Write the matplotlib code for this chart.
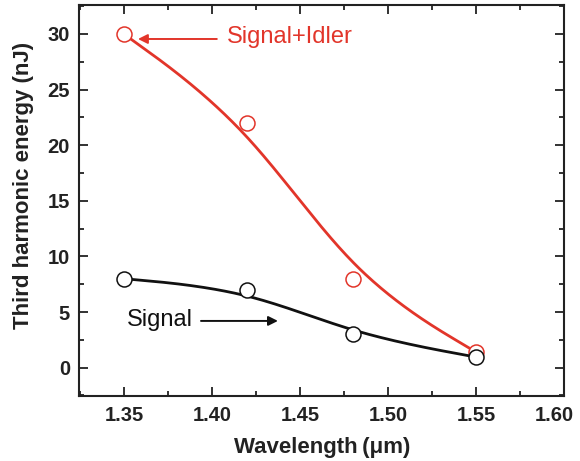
import numpy as np
import matplotlib
matplotlib.use("Agg")
import matplotlib.pyplot as plt
import matplotlib.transforms as mtransforms
from matplotlib.ticker import MultipleLocator

plt.rcParams['font.family'] = ['Liberation Sans', 'DejaVu Sans']

# Measured third-harmonic energy versus pump wavelength
wavelength = [1.35, 1.42, 1.48, 1.55]
signal_idler = [30.0, 22.0, 8.0, 1.4]
signal = [8.0, 7.0, 3.0, 0.95]

RED = '#e2352a'
BLACK = '#111111'


def bspline(x, y, n=60):
    """Uniform cubic B-spline using the data as control points,
    end points repeated so the curve starts and ends on them."""
    pts = np.column_stack([x, y]).astype(float)
    pts = np.vstack([pts[:1], pts[:1], pts, pts[-1:], pts[-1:]])
    t = np.linspace(0, 1, n)[:, None]
    b0 = (1 - t) ** 3 / 6
    b1 = (3 * t ** 3 - 6 * t ** 2 + 4) / 6
    b2 = (-3 * t ** 3 + 3 * t ** 2 + 3 * t + 1) / 6
    b3 = t ** 3 / 6
    segs = [b0 * pts[i] + b1 * pts[i + 1] + b2 * pts[i + 2] + b3 * pts[i + 3]
            for i in range(len(pts) - 3)]
    curve = np.vstack(segs)
    return curve[:, 0], curve[:, 1]


fig = plt.figure(figsize=(5.8, 4.61), dpi=100)
ax = fig.add_axes([0.1362, 0.141, 0.9724 - 0.1362, 0.989 - 0.141])

cx, cy = bspline(wavelength, signal_idler)
ax.plot(cx, cy, color=RED, lw=2.0, zorder=2)
ax.plot(wavelength, signal_idler, 'o', ms=10.8, mfc='white', mec=RED, mew=1.1, zorder=3)
cx, cy = bspline(wavelength, signal)
ax.plot(cx, cy, color=BLACK, lw=2.0, zorder=4)
ax.plot(wavelength, signal, 'o', ms=10.8, mfc='white', mec=BLACK, mew=1.1, zorder=5)

# Series annotations
ax.annotate('', xy=(1.358, 29.55), xytext=(1.4028, 29.55),
            arrowprops=dict(arrowstyle='-|>', color=RED, lw=1.4,
                            mutation_scale=14, shrinkA=0, shrinkB=0))
ax.text(1.4085, 29.75, 'Signal+Idler', color=RED, fontsize=17,
        ha='left', va='center')
ax.annotate('', xy=(1.4375, 4.2), xytext=(1.3938, 4.2),
            arrowprops=dict(arrowstyle='-|>', color=BLACK, lw=1.4,
                            mutation_scale=14, shrinkA=0, shrinkB=0))
ax.text(1.3517, 4.3, 'Signal', color=BLACK, fontsize=17,
        ha='left', va='center')

ax.set_xlim(1.3245, 1.60)
ax.set_ylim(-2.55, 32.6)
ax.xaxis.set_major_locator(MultipleLocator(0.05))
ax.xaxis.set_minor_locator(MultipleLocator(0.025))
ax.yaxis.set_major_locator(MultipleLocator(5))
ax.yaxis.set_minor_locator(MultipleLocator(2.5))
ax.xaxis.set_major_formatter(plt.FormatStrFormatter('%.2f'))

for s in ax.spines.values():
    s.set_linewidth(1.5)
    s.set_color('#222222')

ax.tick_params(which='both', direction='in', top=True, right=True,
               width=1.3, color='#222222')
ax.tick_params(which='major', length=6.5, labelsize=14.5)
ax.tick_params(which='minor', length=3.5)
ax.tick_params(axis='y', which='major', pad=6.5)
ax.tick_params(axis='x', which='major', pad=7.5)
for lab in ax.get_xticklabels() + ax.get_yticklabels():
    lab.set_fontweight('bold')
    lab.set_color('#222222')

# keep the right-most wavelength label inside the figure
fig.canvas.draw()
last = [lab for lab in ax.get_xticklabels() if lab.get_text() == '1.60']
for lab in last:
    lab.set_transform(lab.get_transform() +
                      mtransforms.ScaledTranslation(-7 / 72, 0, fig.dpi_scale_trans))

ax.set_xlabel('Wavelength\u2009(\u03bcm)', fontsize=16, fontweight='bold',
              color='#222222')
ax.set_ylabel('Third harmonic energy (nJ)', fontsize=16, fontweight='bold',
              color='#222222')
ax.xaxis.set_label_coords((322 - 79) / (564 - 79), -(437.5 - 396) / (396 - 5))
ax.yaxis.set_label_coords(-(79 - 34) / (564 - 79), (396 - 185) / (396 - 5))

fig.savefig('out.png', dpi=100)
